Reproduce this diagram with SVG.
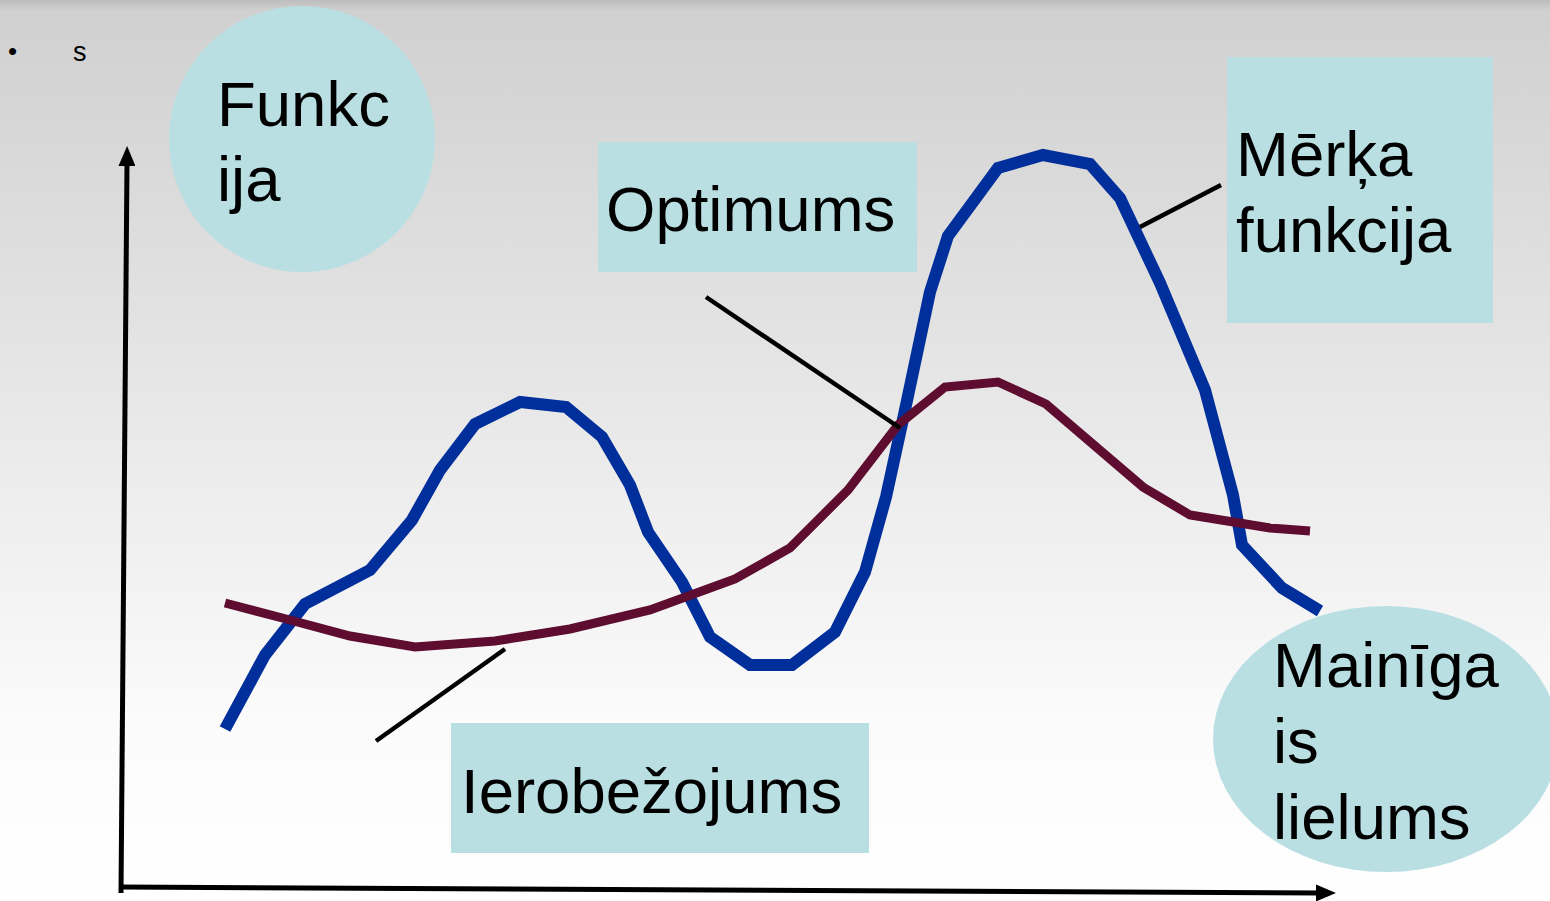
<svg xmlns="http://www.w3.org/2000/svg" width="1550" height="901" viewBox="0 0 1550 901">
<defs>
<linearGradient id="bg" x1="0" y1="0" x2="0" y2="1">
<stop offset="0" stop-color="#bdbdbd"/>
<stop offset="0.012" stop-color="#d0d0d0"/>
<stop offset="0.35" stop-color="#e2e2e2"/>
<stop offset="0.8" stop-color="#fbfbfb"/>
<stop offset="1" stop-color="#ffffff"/>
</linearGradient>
<marker id="arr" viewBox="0 0 10 10" refX="2" refY="5" markerWidth="20" markerHeight="17" orient="auto" markerUnits="userSpaceOnUse" preserveAspectRatio="none">
<path d="M0,0 L10,5 L0,10 z" fill="#000"/>
</marker>
<style>
.lbl{font-family:"Liberation Sans",Arial,sans-serif;font-size:63.5px;fill:#000}
.shape{fill:#b9dfe3}
.axis{stroke:#000;stroke-width:5;fill:none}
.lead{stroke:#000;stroke-width:4.5;fill:none}
</style>
</defs>
<rect width="1550" height="901" fill="url(#bg)"/>
<text x="8" y="60" style="font-family:'Liberation Sans',Arial,sans-serif;font-size:26px">•</text>
<text x="73" y="61" style="font-family:'Liberation Sans',Arial,sans-serif;font-size:27px">s</text>
<g id="funkcija">
<ellipse class="shape" cx="302" cy="139" rx="133" ry="133"/>
<text class="lbl" x="217" y="126">Funkc</text>
<text class="lbl" x="217" y="201">ija</text>
</g>
<g id="optimums">
<rect class="shape" x="598" y="142" width="319" height="130"/>
<text class="lbl" x="606" y="231">Optimums</text>
</g>
<g id="merka">
<rect class="shape" x="1227" y="57" width="266" height="266"/>
<text class="lbl" x="1236" y="176">Mērķa</text>
<text class="lbl" x="1236" y="252">funkcija</text>
</g>
<g id="ierobezojums">
<rect class="shape" x="451" y="723" width="418" height="130"/>
<text class="lbl" x="461" y="813">Ierobežojums</text>
</g>
<g id="curves">
<polyline fill="none" stroke="#002f9c" stroke-width="12" stroke-linejoin="miter" points="225,729 265,655 305,604 370,570 412,520 440,470 475,424 520,402 566,407 602,437 630,485 648,532 682,582 710,637 750,665 792,665 835,632 865,572 886,497 905,410 930,292 948,236 998,168 1043,155 1090,164 1120,198 1160,283 1205,390 1233,495 1242,545 1282,588 1320,611"/>
<polyline fill="none" stroke="#5e0c2f" stroke-width="9" points="225,603 290,620 350,636 415,647 495,641 570,629 650,610 735,579 790,548 848,490 898,425 945,387 998,382 1046,404 1143,487 1190,515 1270,528 1310,531"/>
</g>
<g id="mainiga">
<ellipse class="shape" cx="1386" cy="739" rx="173" ry="133"/>
<text class="lbl" x="1273" y="687">Mainīga</text>
<text class="lbl" x="1273" y="763">is</text>
<text class="lbl" x="1273" y="839">lielums</text>
</g>
<g id="connectors">
<line class="axis" x1="121" y1="893" x2="127" y2="162" marker-end="url(#arr)"/>
<line class="axis" x1="119" y1="887" x2="1320" y2="893" marker-end="url(#arr)"/>
<line class="lead" x1="706" y1="297" x2="900" y2="428"/>
<line class="lead" x1="1140" y1="227" x2="1221" y2="185"/>
<line class="lead" x1="376" y1="741" x2="505" y2="649"/>
</g>
</svg>
